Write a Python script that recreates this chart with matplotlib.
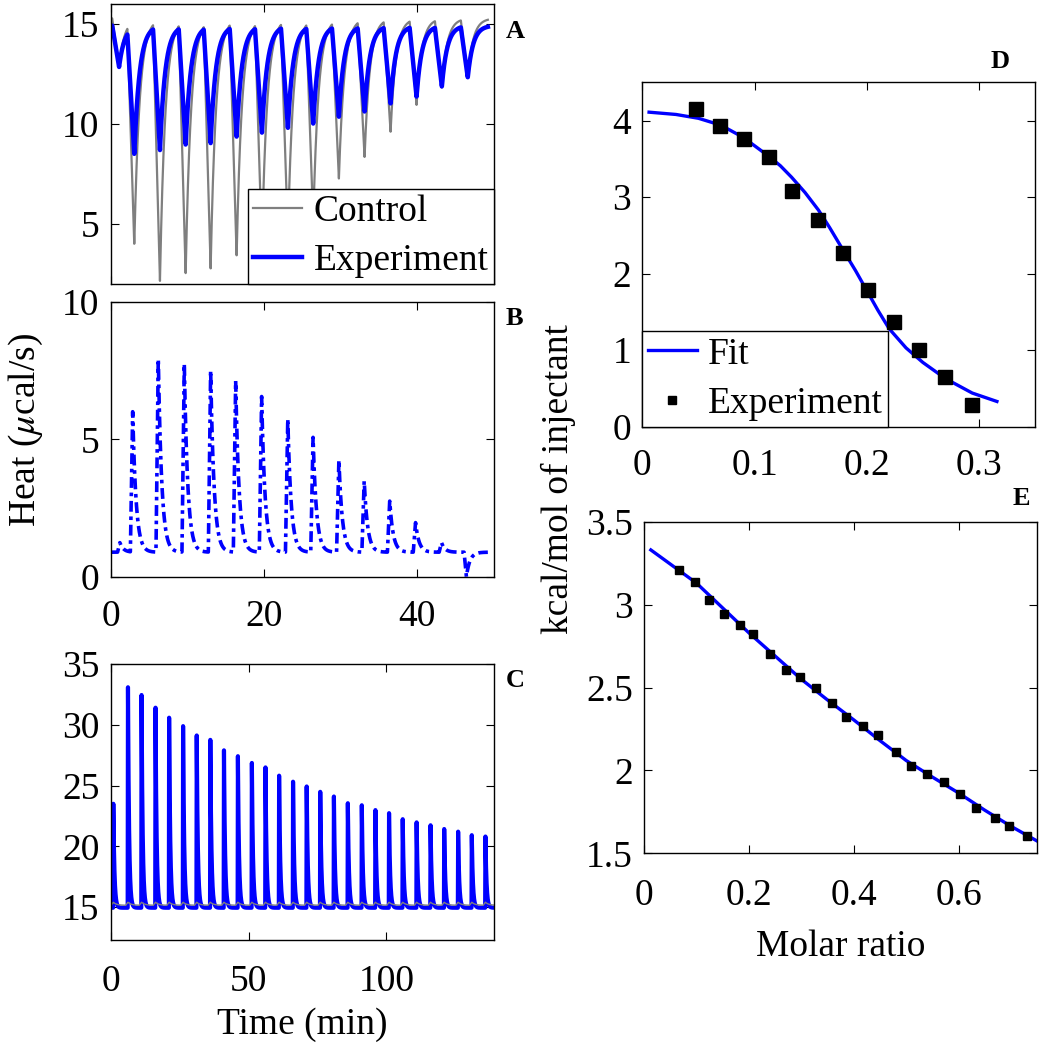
import numpy as np
import matplotlib
matplotlib.use("Agg")
import matplotlib.pyplot as plt

plt.rcParams['font.family'] = ['Liberation Serif', 'DejaVu Serif']
plt.rcParams['mathtext.fontset'] = 'stix'
plt.rcParams['font.size'] = 27

# ---- Panel A: raw thermograms (control vs experiment) ----
a_times = [1.1, 3.08, 6.43, 9.78, 13.04, 16.43, 19.73, 23.12, 26.42,
           29.77, 33.12, 36.51, 39.9, 43.2, 46.58]
a_control_min = [12.85, 4.1, 2.25, 2.6, 2.9, 3.5, 4.0, 4.5, 5.2,
                 7.35, 8.4, 9.65, 11.0, 11.85, 12.35]
a_exp_min = [12.85, 8.6, 8.75, 9.0, 9.1, 9.4, 9.6, 9.85, 10.05,
             10.4, 10.65, 11.05, 11.4, 11.9, 12.35]
a_control_base = 15.28
a_exp_base = 14.92

# ---- Panel B: heat signal ----
b_times = [1.2, 2.87, 6.21, 9.6, 13.04, 16.3, 19.69, 23.1, 26.4,
           29.77, 33.07, 36.4, 39.77, 43.15, 46.4]
b_peaks = [1.25, 6.0, 7.95, 7.8, 7.5, 7.18, 6.57, 5.77, 5.07,
           4.26, 3.5, 2.77, 1.98, 1.25, 0.0]
b_base = 0.9

# ---- Panel C: long titration ----
c_times = [0.96, 6.27, 11.2, 16.26, 21.2, 26.26, 31.2, 36.14, 41.08, 46.14,
           51.2, 56.14, 61.08, 66.14, 71.08, 76.0, 80.95, 86.0, 91.07, 96.0,
           100.95, 105.9, 110.95, 116.0, 120.95, 126.0, 130.95, 135.9]
c_peaks = [23.57, 33.33, 32.46, 31.58, 30.74, 30.0, 29.4, 28.85, 28.14, 27.46,
           27.02, 26.5, 25.95, 25.43, 25.02, 24.61, 24.18, 23.71, 23.41, 23.11,
           22.75, 22.34, 21.99, 21.8, 21.52, 21.25, 21.03, 20.84]
c_exp_base = 14.95
c_control_base = 15.15
c_control_bump = 0.25

# ---- Panel D: integrated heats + fit ----
d_ratio = [0.0476, 0.0695, 0.0908, 0.1127, 0.1334, 0.1565, 0.1784, 0.2014,
           0.2242, 0.247, 0.270, 0.2937]
d_heat = [4.15, 3.935, 3.76, 3.52, 3.08, 2.70, 2.27, 1.79, 1.37, 1.0, 0.645, 0.28]
d_fit_x = [0.006, 0.03, 0.05, 0.07, 0.09, 0.113, 0.123, 0.133, 0.145, 0.157,
           0.167, 0.178, 0.19, 0.20, 0.21, 0.22, 0.235, 0.25, 0.27, 0.294, 0.316]
d_fit_y = [4.11, 4.08, 4.03, 3.94, 3.78, 3.53, 3.41, 3.26, 3.06, 2.83,
           2.60, 2.33, 2.04, 1.78, 1.52, 1.28, 1.03, 0.84, 0.63, 0.44, 0.33]

# ---- Panel E: integrated heats + fit ----
e_ratio = [0.0667, 0.097, 0.1244, 0.153, 0.183, 0.208, 0.24, 0.27, 0.297, 0.3276,
           0.3587, 0.386, 0.4178, 0.446, 0.48, 0.51, 0.54, 0.572, 0.602, 0.634,
           0.6686, 0.697, 0.731]
e_heat = [3.209, 3.139, 3.028, 2.942, 2.878, 2.823, 2.703, 2.607, 2.563, 2.499,
          2.406, 2.322, 2.267, 2.215, 2.109, 2.028, 1.98, 1.93, 1.86, 1.773,
          1.713, 1.663, 1.607]
e_fit_x = [0.013, 0.05, 0.1, 0.15, 0.2, 0.25, 0.3, 0.35, 0.4, 0.45, 0.5,
           0.55, 0.6, 0.65, 0.7, 0.751]
e_fit_y = [3.33, 3.245, 3.13, 2.98, 2.83, 2.69, 2.55, 2.425, 2.305, 2.18, 2.06,
           1.96, 1.864, 1.76, 1.663, 1.572]


def pulse(t, t0, rise, tau):
    # injection peak shape: linear onset then exponential recovery
    s = t - (t0 - rise)
    out = np.zeros_like(t)
    m1 = (s >= 0) & (s < rise)
    out[m1] = s[m1] / rise
    m2 = s >= rise
    out[m2] = np.exp(-(s[m2] - rise) / tau)
    return out


def trace(t, base, times, extremes, rise, tau):
    y = np.full_like(t, base)
    for t0, v in zip(times, extremes):
        y += (v - base) * pulse(t, t0, rise, tau)
    return y


def style(ax, xpad=14):
    ax.tick_params(direction='in', top=True, right=True, length=6, width=0.8,
                   labelsize=27)
    ax.tick_params(axis='y', pad=8)
    ax.tick_params(axis='x', pad=xpad)
    for sp in ax.spines.values():
        sp.set_linewidth(1.0)


leg_kw = dict(borderaxespad=0, fancybox=False, framealpha=1, edgecolor='black',
              fontsize=27, handlelength=1.3, handletextpad=0.3,
              borderpad=0.15, labelspacing=0.4)

fig = plt.figure(figsize=(10.47, 10.5), dpi=100)

# Panel A
axA = fig.add_axes([0.1057, 0.7295, 0.3661, 0.2667])
tA = np.linspace(0, 49.2, 6000)
axA.plot(tA, trace(tA, a_control_base, a_times, a_control_min, 0.9, 0.7),
         color='#7f7f7f', lw=1.6, label='Control')
axA.plot(tA, trace(tA, a_exp_base, a_times, a_exp_min, 0.9, 0.7),
         color='#0000ff', lw=3.2, label='Experiment')
axA.set_xlim(0, 50)
axA.set_ylim(2, 16)
axA.set_xticks([0, 20, 40])
axA.set_xticklabels([])
axA.set_yticks([5, 10, 15])
style(axA)
axA.legend(loc='lower right', **leg_kw)
axA.text(1.03, 0.9, 'A', transform=axA.transAxes, fontsize=19,
         fontweight='bold', ha='left', va='center')

# Panel B
axB = fig.add_axes([0.1057, 0.4505, 0.3661, 0.2622])
tB = np.linspace(0, 49.2, 6000)
yB = trace(tB, b_base, b_times, b_peaks, 0.3, 0.45)
axB.plot(tB, yB, color='#0000ff', lw=2.6, ls=(0, (3, 1.3, 1, 1.3)))
axB.set_xlim(0, 50)
axB.set_ylim(0, 10)
axB.set_xticks([0, 20, 40])
axB.set_yticks([0, 5, 10])
style(axB, xpad=16)
axB.text(1.03, 0.94, 'B', transform=axB.transAxes, fontsize=19,
         fontweight='bold', ha='left', va='center')

# Panel C
axC = fig.add_axes([0.1057, 0.1048, 0.3661, 0.2628])
tC = np.linspace(0, 139, 14000)
axC.plot(tC, trace(tC, c_exp_base, c_times, c_peaks, 0.1, 0.4),
         color='#0000ff', lw=3.0)
axC.plot(tC, trace(tC, c_control_base, c_times,
                   [c_control_base + c_control_bump] * len(c_times), 0.8, 1.2),
         color='#7f7f7f', lw=1.0)
axC.set_xlim(0, 139)
axC.set_ylim(12.3, 35)
axC.set_xticks([0, 50, 100])
axC.set_yticks([15, 20, 25, 30, 35])
style(axC, xpad=18)
axC.set_xlabel('Time (min)', fontsize=27, labelpad=6)
axC.text(1.03, 0.94, 'C', transform=axC.transAxes, fontsize=19,
         fontweight='bold', ha='left', va='center')

# Panel D
axD = fig.add_axes([0.6135, 0.5936, 0.3751, 0.3280])
axD.plot(d_fit_x, d_fit_y, color='#0000ff', lw=2.4, label='Fit')
axD.plot(d_ratio, d_heat, ls='none', marker='s', ms=9.5, color='black',
         label='Experiment')
axD.set_xlim(0, 0.35)
axD.set_ylim(0, 4.5)
axD.set_xticks([0, 0.1, 0.2, 0.3])
axD.set_xticklabels(['0', '0.1', '0.2', '0.3'])
axD.set_yticks([0, 1, 2, 3, 4])
style(axD, xpad=16)
axD.legend(loc='lower left', markerscale=0.6, **leg_kw)
axD.text(0.91, 1.06, 'D', transform=axD.transAxes, fontsize=19,
         fontweight='bold', ha='center', va='center')

# Panel E
axE = fig.add_axes([0.6151, 0.1873, 0.3756, 0.3158])
axE.plot(e_fit_x, e_fit_y, color='#0000ff', lw=2.4)
axE.plot(e_ratio, e_heat, ls='none', marker='s', ms=6, color='black')
axE.set_xlim(0, 0.75)
axE.set_ylim(1.5, 3.5)
axE.set_xticks([0, 0.2, 0.4, 0.6])
axE.set_xticklabels(['0', '0.2', '0.4', '0.6'])
axE.set_yticks([1.5, 2, 2.5, 3, 3.5])
axE.set_yticklabels(['1.5', '2', '2.5', '3', '3.5'])
style(axE, xpad=18)
axE.set_xlabel('Molar ratio', fontsize=27, labelpad=12)
axE.text(0.96, 1.07, 'E', transform=axE.transAxes, fontsize=19,
         fontweight='bold', ha='center', va='center')

fig.text(26 / 1047, 1 - 430 / 1050, 'Heat ($\\mu$cal/s)', rotation=90,
         fontsize=27, ha='center', va='center')
fig.text(0.533, 1 - 479 / 1050, 'kcal/mol of injectant', rotation=90,
         fontsize=27, ha='center', va='center')

fig.savefig('out.png', dpi=100)
